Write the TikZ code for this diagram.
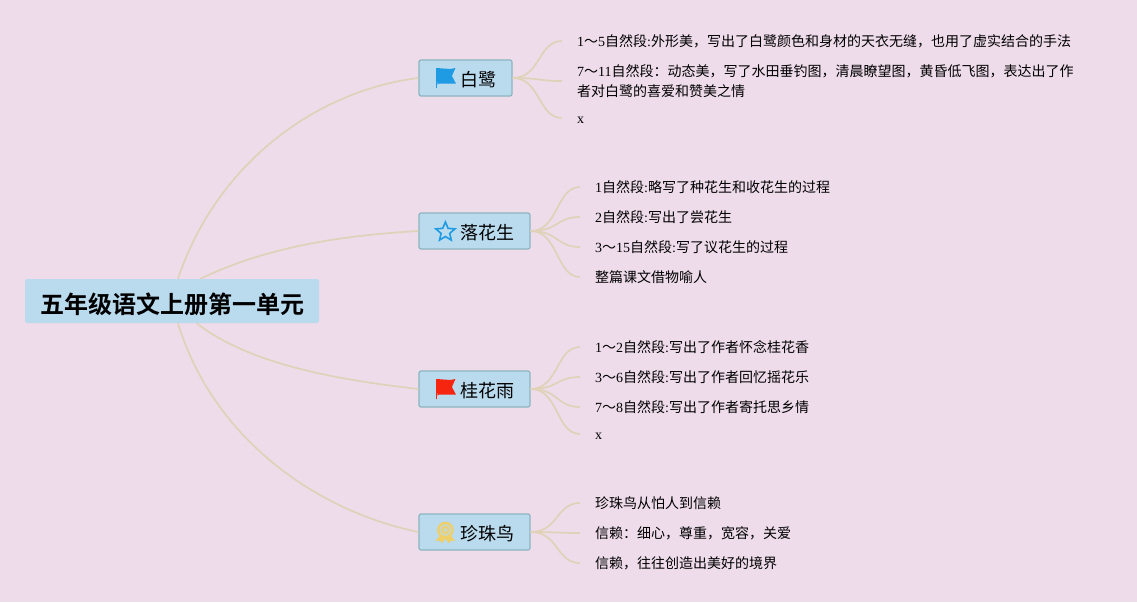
\documentclass[tikz,border=0pt]{standalone}
\usepackage{fontspec}
\setmainfont{Noto Sans CJK SC}[BoldFont={Noto Sans CJK SC Bold}]
\newfontfamily\latinfont{Liberation Serif}
\newcommand{\en}[1]{{\latinfont #1}}
\usetikzlibrary{shapes.geometric,calc}
\definecolor{ctBg}{HTML}{EEDCEB}
\definecolor{ctBox}{HTML}{BADAEE}
\definecolor{ctEdge}{HTML}{8CB4BF}
\definecolor{ctLine}{HTML}{E0D2B8}
\definecolor{ctBlue}{HTML}{1E9BE2}
\definecolor{ctRed}{HTML}{F5250F}
\definecolor{ctGold}{HTML}{EFCF68}
\tikzset{
  rootbox/.style={fill=ctBox,rounded corners=2pt,minimum width=294pt,minimum height=44pt,inner sep=0pt,text height=26pt,text depth=1.8pt,font=\fontsize{24}{28}\selectfont\bfseries},
  topicbox/.style={draw=ctEdge,line width=1.2pt,fill=ctBox,rounded corners=2pt,minimum height=36pt,inner sep=0pt,text height=19pt,text depth=1.4pt,font=\fontsize{18}{22}\selectfont},
  leafbox/.style={anchor=west,inner xsep=15pt,inner ysep=0pt,align=left,font=\fontsize{14}{20}\selectfont},
  xleaf/.style={leafbox,text height=10.3pt,text depth=0pt},
  trunk/.style={draw=ctLine,line width=1.7pt},
  twig/.style={draw=ctLine,line width=1.7pt},
}
\newcommand{\flagicon}[2]{
  \fill[#2] ($(#1.west)+(18,-10)$) -- ++(14,1) -- ++(5,-1) -- ++(-3.5,8) -- ++(4,7.5) -- ++(-17,0) -- ++(-1.5,1) -- cycle;
  \draw[#2,line width=1pt] ($(#1.west)+(18,-10)$) -- ++(0,20);
}
\begin{document}
\begin{tikzpicture}[x=1pt,y=-1pt]
  \useasboundingbox (0,0) rectangle (1137,602);
  \fill[ctBg] (0,0) rectangle (1137,602);
  \node[rootbox] (root) at (172,301) {五年级语文上册第一单元};
  \node[topicbox,minimum width=93pt] (bailu) at (465.5,78) {\hspace{26pt}白鹭};
  \node[topicbox,minimum width=111pt] (luohua) at (474.5,231) {\hspace{26pt}落花生};
  \node[topicbox,minimum width=111pt] (guihua) at (474.5,389) {\hspace{26pt}桂花雨};
  \node[topicbox,minimum width=111pt] (zhenzhu) at (474.5,532) {\hspace{26pt}珍珠鸟};
  % leaves
  \node[leafbox] (bailua) at (562,41) {\en{1}～\en{5}自然段\en{:}外形美，写出了白鹭颜色和身材的天衣无缝，也用了虚实结合的手法};
  \node[leafbox] (bailub) at (562,81) {\en{7}～\en{11}自然段：动态美，写了水田垂钓图，清晨瞭望图，黄昏低飞图，表达出了作\\者对白鹭的喜爱和赞美之情};
  \node[xleaf] (bailuc) at (562,118) {\en{x}};
  \node[leafbox] (luohuaa) at (580,187) {\en{1}自然段\en{:}略写了种花生和收花生的过程};
  \node[leafbox] (luohuab) at (580,217) {\en{2}自然段\en{:}写出了尝花生};
  \node[leafbox] (luohuac) at (580,247) {\en{3}～\en{15}自然段\en{:}写了议花生的过程};
  \node[leafbox] (luohuad) at (580,277) {整篇课文借物喻人};
  \node[leafbox] (guihuaa) at (580,347) {\en{1}～\en{2}自然段\en{:}写出了作者怀念桂花香};
  \node[leafbox] (guihuab) at (580,377) {\en{3}～\en{6}自然段\en{:}写出了作者回忆摇花乐};
  \node[leafbox] (guihuac) at (580,407) {\en{7}～\en{8}自然段\en{:}写出了作者寄托思乡情};
  \node[xleaf] (guihuad) at (580,434) {\en{x}};
  \node[leafbox] (zhenzhua) at (580,503) {珍珠鸟从怕人到信赖};
  \node[leafbox] (zhenzhub) at (580,533) {信赖：细心，尊重，宽容，关爱};
  \node[leafbox] (zhenzhuc) at (580,563) {信赖，往往创造出美好的境界};
  % trunks
  \draw[trunk] (root.75) .. controls (218,160) and (320,90) .. (bailu.west);
  \draw[trunk] (root.38) .. controls (270,245) and (350,235) .. (luohua.west);
  \draw[trunk] (root.-42) .. controls (250,365) and (340,380) .. (guihua.west);
  \draw[trunk] (root.-75) .. controls (212,435) and (312,510) .. (zhenzhu.west);
  % twigs
  \foreach \from/\to in {bailu/bailua,bailu/bailub,bailu/bailuc,luohua/luohuaa,luohua/luohuab,luohua/luohuac,luohua/luohuad,guihua/guihuaa,guihua/guihuab,guihua/guihuac,guihua/guihuad,zhenzhu/zhenzhua,zhenzhu/zhenzhub,zhenzhu/zhenzhuc}{
    \draw[twig] (\from.east) .. controls +(28,0) and +(-24,0) .. (\to.west);
  }
  % icons
  \flagicon{bailu}{ctBlue}
  \flagicon{guihua}{ctRed}
  \node[star,star points=5,star point ratio=2.2,draw=ctBlue,line width=1.6pt,minimum size=20pt,inner sep=0pt] (staricon) at ($(luohua.west)+(27,1)$) {};
  \fill[ctGold] ($(zhenzhu.west)+(22,3)$) -- ++(-5,6) -- ++(4,-.5) -- ++(3,2.5) -- ++(4,-6) -- cycle;
  \fill[ctGold] ($(zhenzhu.west)+(32,3)$) -- ++(5,6) -- ++(-4,-.5) -- ++(-3,2.5) -- ++(-4,-6) -- cycle;
  \draw[ctGold,line width=2.2pt,fill=ctGold!35!ctBox] ($(zhenzhu.west)+(27,-2)$) circle (7.2);
  \draw[ctGold,line width=1.4pt] ($(zhenzhu.west)+(27,-2)$) circle (3.2);
\end{tikzpicture}
\end{document}
